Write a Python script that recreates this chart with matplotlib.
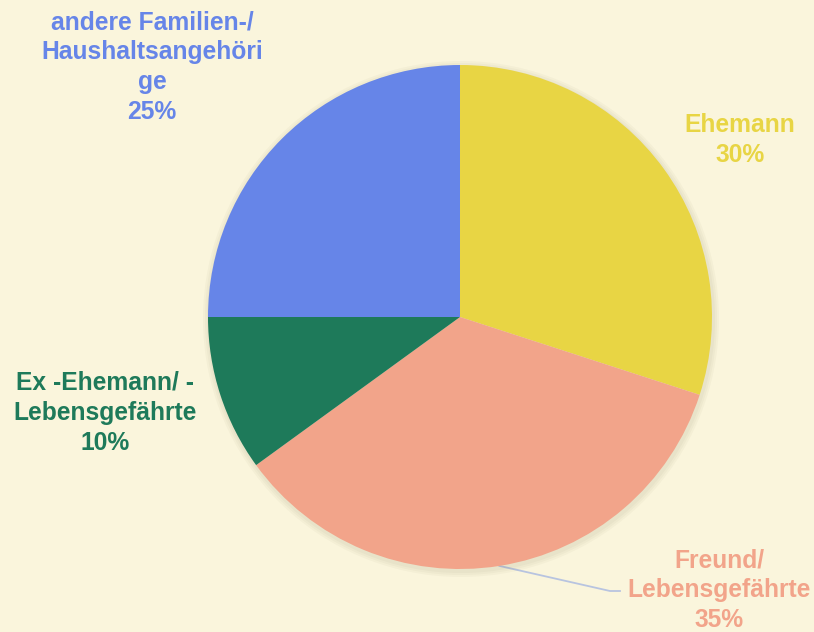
import numpy as np
import matplotlib.pyplot as plt
from matplotlib.patches import Circle

# Daten
labels = ["Ehemann", "Freund/\nLebensgefährte", "Ex -Ehemann/ -\nLebensgefährte",
          "andere Familien-/\nHaushaltsangehöri\nge"]
values = [30, 35, 10, 25]
colors = ["#E8D544", "#F2A48A", "#1E7A5A", "#6685E8"]

bg = "#FAF5DC"
W, H = 814, 632
cx, cy, r = 460, H - 317, 252

fig = plt.figure(figsize=(W / 100, H / 100), dpi=100, facecolor=bg)
ax = fig.add_axes([0, 0, 1, 1])

# leichter Schatten
for i, a in enumerate([0.05, 0.05, 0.05]):
    ax.add_patch(Circle((cx + 1, cy - 2), r + 2 + i * 2, color="#8a8060", alpha=a, lw=0, zorder=1))

wedges, _ = ax.pie(values, colors=colors, startangle=90, counterclock=False,
                   center=(cx, cy), radius=r, frame=True,
                   wedgeprops=dict(linewidth=0, zorder=2))
ax.set_xlim(0, W)
ax.set_ylim(0, H)
ax.set_aspect("equal")
ax.axis("off")

# Beschriftungen (Mittelpunkt der ersten Zeile in Pixeln)
pos = [(740, 125), (719, 560), (105, 383), (152, 22)]
font = dict(family=["Liberation Sans", "DejaVu Sans"], fontsize=17.7, fontweight="bold",
            ha="center", va="center")
for lab, v, c, (x, y) in zip(labels, values, colors, pos):
    lines = lab.split("\n") + [f"{v}%"]
    for k, line in enumerate(lines):
        ax.text(x, H - (y + k * 30), line, color=c, **font)

# Führungslinie Freund
w = wedges[1]
mid = np.deg2rad((w.theta1 + w.theta2) / 2)
x0, y0 = cx + r * np.cos(mid), cy + r * np.sin(mid)
ax.plot([x0, 610, 620], [y0, H - 591, H - 591], color="#B8C4E0", lw=1.3, zorder=0.5)

fig.savefig("out.png", dpi=100, facecolor=bg)
